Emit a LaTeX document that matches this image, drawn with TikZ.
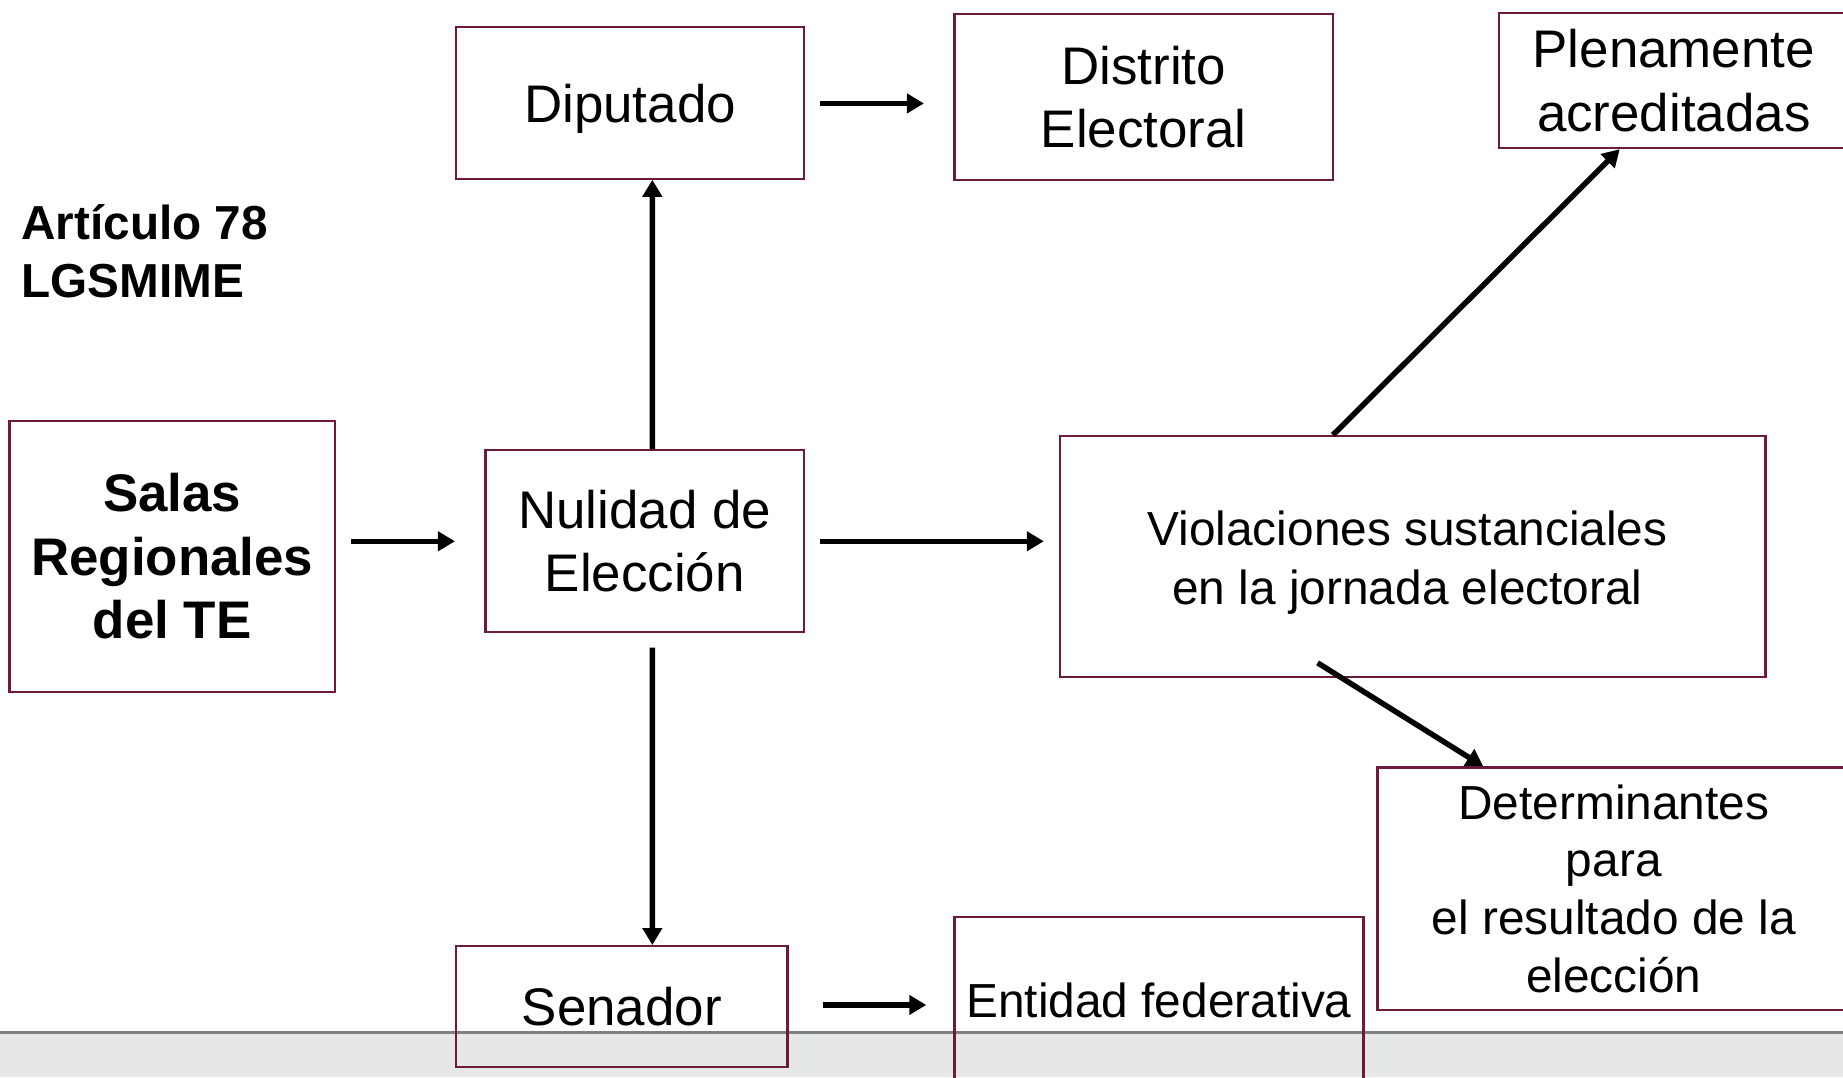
\documentclass[tikz,border=0pt]{standalone}
\usepackage{fontspec}
\setmainfont{Liberation Sans}
\usetikzlibrary{calc,arrows.meta}
\definecolor{boxred}{HTML}{6E1A3E}
\definecolor{bandfill}{HTML}{E6E8E8}
\definecolor{bandline}{HTML}{808080}
\tikzset{
  box/.style={draw=boxred, line width=2.2pt, rectangle, inner sep=0pt, align=center, text=black},
  bigtxt/.style={font=\fontsize{52.9}{63.5}\selectfont},
  midtxt/.style={font=\fontsize{47.8}{58.8}\selectfont},
  arr/.style={line width=5.5pt, -{Triangle[length=17pt,width=19pt]}},
}
\begin{document}
\begin{tikzpicture}[x=1.1754pt, y=-1.1754pt]
\useasboundingbox (0,0) rectangle (1568,916.3);
% bottom band
\fill[bandfill] (0,878) rectangle (1568,916.3);
\draw[bandline, line width=3pt] (0,878) -- (1568,878);
% nodes
\node[box, minimum width=296*1.1754pt, minimum height=129*1.1754pt,
      label={[bigtxt, inner sep=0pt, yshift=-5.9pt]center:Diputado}] (dip) at (536,87.5) {};
\node[box, bigtxt, minimum width=322*1.1754pt, minimum height=141*1.1754pt] (dist) at (973,82.5) {Distrito\\Electoral};
\node[box, bigtxt, minimum width=298*1.1754pt, minimum height=115*1.1754pt] (plen) at (1424,68.5) {Plenamente\\acreditadas};
\node[anchor=west, align=left, inner sep=0pt, font=\fontsize{47.7}{57.6}\selectfont\bfseries] (art) at (18,213.5) {Artículo 78\\LGSMIME};
\node[box, font=\fontsize{52.9}{63.5}\selectfont\bfseries, minimum width=277*1.1754pt, minimum height=231*1.1754pt] (salas) at (146.5,473.5) {Salas\\Regionales\hspace*{13pt}\\del TE};
\node[box, bigtxt, minimum width=271*1.1754pt, minimum height=155*1.1754pt] (nul) at (548.5,460.5) {Nulidad de\\Elección};
\node[box, minimum width=600*1.1754pt, minimum height=205*1.1754pt,
      label={[midtxt, align=center, inner sep=0pt, xshift=-5.3pt, yshift=-5.9pt]center:{Violaciones sustanciales\\en la jornada electoral}}] (viol) at (1202,473.5) {};
\node[box, font=\fontsize{47.8}{57.6}\selectfont, minimum width=402*1.1754pt, minimum height=206*1.1754pt] (det) at (1373,756) {Determinantes\\para\\el resultado de la\\elección};
\node[box, bigtxt, minimum width=282*1.1754pt, minimum height=103*1.1754pt] (sen) at (529,856.5) {Senador};
\node[box, midtxt, minimum width=348*1.1754pt, minimum height=142*1.1754pt] (ent) at (986,851) {Entidad federativa};
% connectors
\draw[arr] ($(salas.east |- nul.west)+(13,0)$) -- ($(nul.west)+(-25,0)$);
\draw[arr] ($(nul.north)+(6.5,0)$) -- ($(dip.south)+(19,0)$);
\draw[arr] ($(nul.south)+(6.5,12)$) -- ($(sen.north)+(26,0)$);
\draw[arr] ($(dip.east)+(13,0.5)$) -- ($(dist.west |- dip.east)+(-25,0.5)$);
\draw[arr] ($(nul.east)+(13,0)$) -- ($(viol.west |- nul.east)+(-13,0)$);
\draw[arr] ($(viol.north)+(-68,0)$) -- ($(plen.south)+(-46,0)$);
\draw[arr] ($(viol.south)+(-81,-13)$) -- ($(det.north)+(-111,0)$);
\draw[arr] ($(sen.east)+(29,-1.5)$) -- ($(ent.west |- sen.east)+(-23,-1.5)$);
\end{tikzpicture}
\end{document}
